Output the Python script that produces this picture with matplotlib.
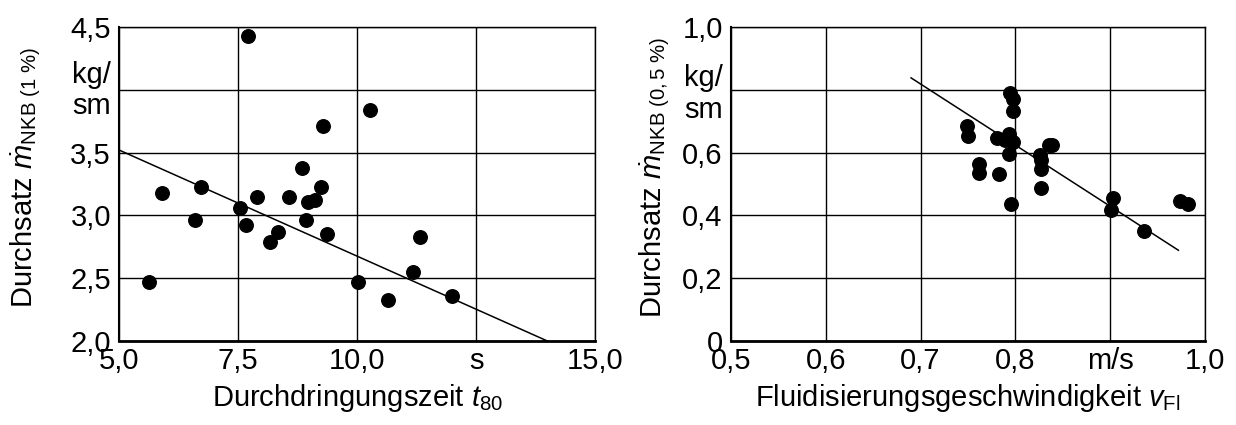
import matplotlib
matplotlib.use('Agg')
import matplotlib.pyplot as plt

plt.rcParams.update({
    'font.family': ['Liberation Sans', 'DejaVu Sans'],
    'mathtext.fontset': 'custom',
    'mathtext.rm': 'Liberation Sans',
    'mathtext.it': 'Liberation Sans:italic',
    'font.size': 21,
})

# left panel: Durchdringungszeit t80 [s] vs. Durchsatz (1 %) [kg/sm]
t80 = [7.70, 10.26, 9.28, 8.85, 9.24, 6.71, 5.90, 7.90, 8.56, 8.97, 9.11, 7.54,
       6.59, 7.66, 8.92, 8.33, 8.16, 9.36, 11.33, 5.63, 10.02, 11.17, 10.64, 11.99]
m_1 = [4.43, 3.84, 3.71, 3.38, 3.23, 3.23, 3.18, 3.15, 3.15, 3.11, 3.12, 3.06,
       2.96, 2.92, 2.96, 2.87, 2.79, 2.85, 2.83, 2.47, 2.47, 2.55, 2.33, 2.36]
fit_1_x = [5.0, 14.0]
fit_1_y = [3.52, 2.0]

# right panel: Fluidisierungsgeschwindigkeit [m/s] vs. Durchsatz (0,5 %)
v_fl = [0.749, 0.750, 0.762, 0.762, 0.783, 0.794, 0.797, 0.798, 0.781, 0.793,
        0.789, 0.798, 0.793, 0.795, 0.826, 0.827, 0.827, 0.827, 0.835, 0.839,
        0.903, 0.901, 0.936, 0.974, 0.982]
m_05 = [0.684, 0.653, 0.564, 0.534, 0.533, 0.790, 0.770, 0.733, 0.648, 0.658,
        0.639, 0.634, 0.597, 0.435, 0.594, 0.575, 0.549, 0.487, 0.623, 0.625,
        0.454, 0.418, 0.351, 0.445, 0.437]
fit_2_x = [0.690, 0.972]
fit_2_y = [0.838, 0.289]

xt_1 = [5.0, 7.5, 10.0, 12.5, 15.0]
xl_1 = ['5,0', '7,5', '10,0', 's', '15,0']
yt_1 = [2.0, 2.5, 3.0, 3.5, 4.0, 4.5]
yl_1 = ['2,0', '2,5', '3,0', '3,5', '', '4,5']
unit_pos_1 = [3.895, 4.14]

xt_2 = [0.5, 0.6, 0.7, 0.8, 0.9, 1.0]
xl_2 = ['0,5', '0,6', '0,7', '0,8', 'm/s', '1,0']
yt_2 = [0.0, 0.2, 0.4, 0.6, 0.8, 1.0]
yl_2 = ['0', '0,2', '0,4', '0,6', '', '1,0']
unit_pos_2 = [0.745, 0.847]
unit_lbl = ['sm', 'kg/']

fig = plt.figure(figsize=(12.36, 4.25), dpi=100)
ax1 = fig.add_axes([0.0965, 0.1976, 0.3849, 0.7388])
ax2 = fig.add_axes([0.5914, 0.1976, 0.3835, 0.7388])


def style(ax, xt, xl, yt, yl, upos):
    ax.set_xticks(xt)
    ax.set_xticklabels(xl)
    ax.set_yticks(yt)
    ax.set_yticklabels(yl)
    ax.set_yticks(upos, minor=True)
    ax.set_yticklabels(unit_lbl, minor=True)
    ax.set_xlim(xt[0], xt[-1])
    ax.set_ylim(yt[0], yt[-1])
    ax.tick_params(which='both', length=0)
    ax.tick_params(axis='y', which='both', pad=6)
    ax.tick_params(axis='x', pad=4)
    ax.grid(True, which='major', color='black', linewidth=1.0)
    ax.set_axisbelow(True)
    for s in ax.spines.values():
        s.set_linewidth(1.0)
    ax.spines['left'].set_linewidth(1.5)
    ax.spines['bottom'].set_linewidth(2.0)


ax1.scatter(t80, m_1, s=95, color='black', zorder=3)
ax1.plot(fit_1_x, fit_1_y, color='black', linewidth=1.1, zorder=3)
style(ax1, xt_1, xl_1, yt_1, yl_1, unit_pos_1)
ax1.set_xlabel(r'Durchdringungszeit $t_{80}$', labelpad=5)
ax1.set_ylabel(r'Durchsatz $\dot{m}_{\mathrm{NKB\ (1\ \%)}}$')
ax1.yaxis.set_label_coords(-0.16, 0.52)

ax2.scatter(v_fl, m_05, s=95, color='black', zorder=3)
ax2.plot(fit_2_x, fit_2_y, color='black', linewidth=1.1, zorder=3)
style(ax2, xt_2, xl_2, yt_2, yl_2, unit_pos_2)
ax2.set_xlabel(r'Fluidisierungsgeschwindigkeit $v_{\mathrm{Fl}}$', labelpad=5)
ax2.set_ylabel(r'Durchsatz $\dot{m}_{\mathrm{NKB\ (0,5\ \%)}}$')
ax2.yaxis.set_label_coords(-0.125, 0.52)

fig.savefig('out.png', dpi=100)
